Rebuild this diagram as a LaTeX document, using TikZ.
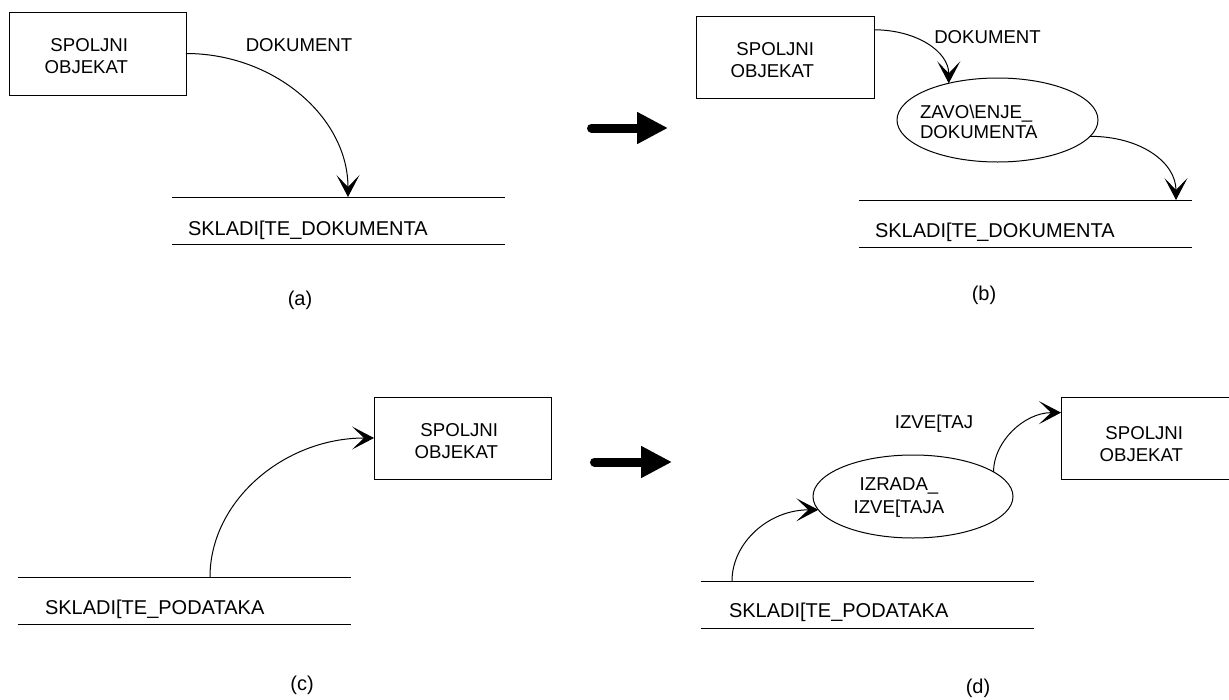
\documentclass[tikz,border=0pt]{standalone}
\usepackage{fontspec}
\setmainfont{Liberation Sans}
\usetikzlibrary{arrows.meta,shapes.geometric}
\begin{document}
\begin{tikzpicture}[x=1pt,y=-1pt,
  ent/.style={draw, line width=1pt, minimum width=177pt, minimum height=82pt, inner sep=0pt, outer sep=0pt},
  proc/.style={ellipse, draw, line width=1pt, inner sep=0pt, outer sep=0pt},
  store/.style={minimum width=333pt, minimum height=47pt, inner sep=0pt, outer sep=0pt},
  storeline/.style={line width=1pt},
  txt/.style={font=\fontsize{18.6}{22}\selectfont, inner sep=0pt, outer sep=0pt},
  stxt/.style={font=\fontsize{20}{24}\selectfont, inner sep=0pt, outer sep=0pt},
  flow/.style={line width=1pt, -{Stealth[length=22pt,width=23pt,inset=12pt]}},
  bigarrow/.style={line width=9pt, line cap=round, -{Triangle[length=31pt,width=30pt]}}]
\useasboundingbox (0,0) rectangle (1229,699);
\clip (0,0) rectangle (1229,699);

% ---------- (a) ----------
\node[ent, minimum height=83pt] (ea) at (97.5,53.5) {};
\node[txt, anchor=east, align=right] (ta1) at (128,56) {SPOLJNI\\OBJEKAT};
\node[txt] (la) at (299,45) {DOKUMENT};
\node[store] (sa) at (338.5,220.5) {};
\draw[storeline] (sa.north west) -- (sa.north east);
\draw[storeline] (sa.south west) -- (sa.south east);
\node[stxt, anchor=base west] (sta) at (188,235.2) {SKLADI[TE\_DOKUMENTA};
\coordinate (tpa) at (348,197);
\draw[flow] (ea.east) .. controls +(88,0) and +(0,-80) .. (tpa);
\node[stxt] (capa) at (300,300) {(a)};

% ---------- big arrow to (b) ----------
\coordinate (ba1) at (591.5,128);
\coordinate (ba2) at (668,128);
\draw[bigarrow] (ba1) -- (ba2);

% ---------- (b) ----------
\node[ent, minimum width=178pt] (eb) at (785,57) {};
\node[txt, anchor=east, align=right] (tb1) at (814,60) {SPOLJNI\\OBJEKAT};
\node[txt] (lb) at (987.5,37) {DOKUMENT};
\node[proc, minimum width=201pt, minimum height=84pt] (pb) at (997.5,120) {};
\node[txt, anchor=west, align=left, font=\fontsize{18.6}{20.5}\selectfont] (pbt) at (920,122) {ZAVO\textbackslash ENJE\_\\DOKUMENTA};
\node[store] (sb) at (1025.5,223.5) {};
\draw[storeline] (sb.north west) -- (sb.north east);
\draw[storeline] (sb.south west) -- (sb.south east);
\node[stxt, anchor=base west] (stb) at (875,237.2) {SKLADI[TE\_DOKUMENTA};
\coordinate (tpb) at (1176,200);
\draw[flow] (eb.17.5) .. controls +(42,0) and +(0,-32) .. (pb.143.6);
\draw[flow] (pb.-10.6) .. controls +(50,0) and +(0,-38) .. (tpb);
\node[stxt] (capb) at (984,295) {(b)};

% ---------- (c) ----------
\node[ent] (ec) at (462.5,438) {};
\node[txt, anchor=east, align=right] (tc1) at (498,441) {SPOLJNI\\OBJEKAT};
\node[store] (sc) at (184,601) {};
\draw[storeline] (sc.north west) -- (sc.north east);
\draw[storeline] (sc.south west) -- (sc.south east);
\node[stxt, anchor=base west] (stc) at (45,614.2) {SKLADI[TE\_PODATAKA};
\coordinate (tpc) at (210,577);
\draw[flow] (tpc) .. controls +(0,-76) and +(-90,0) .. (ec.west);
\node[stxt] (capc) at (302,685) {(c)};

% ---------- big arrow to (d) ----------
\coordinate (bd1) at (594.5,462);
\coordinate (bd2) at (672,462);
\draw[bigarrow] (bd1) -- (bd2);

% ---------- (d) ----------
\node[ent] (ed) at (1149.5,438) {};
\node[txt, anchor=east, align=right] (td1) at (1183,444) {SPOLJNI\\OBJEKAT};
\node[txt, anchor=base] (ld) at (934,428.7) {IZVE[TAJ};
\node[proc, minimum width=200pt, minimum height=83pt] (pd) at (913,496.5) {};
\node[txt, align=center, font=\fontsize{18.6}{23}\selectfont] (pdt) at (899,498) {IZRADA\_\\IZVE[TAJA};
\node[store] (sd) at (867,604.5) {};
\draw[storeline] (sd.north west) -- (sd.north east);
\draw[storeline] (sd.south west) -- (sd.south east);
\node[stxt, anchor=base west] (std) at (729,617.2) {SKLADI[TE\_PODATAKA};
\coordinate (tpd) at (732,581);
\draw[flow] (tpd) .. controls +(0,-38) and +(-50,0) .. (pd.188.4);
\draw[flow] (pd.17) .. controls +(0,-30) and +(-37,0) .. (ed.164.2);
\node[stxt] (capd) at (978,688) {(d)};
\end{tikzpicture}
\end{document}
